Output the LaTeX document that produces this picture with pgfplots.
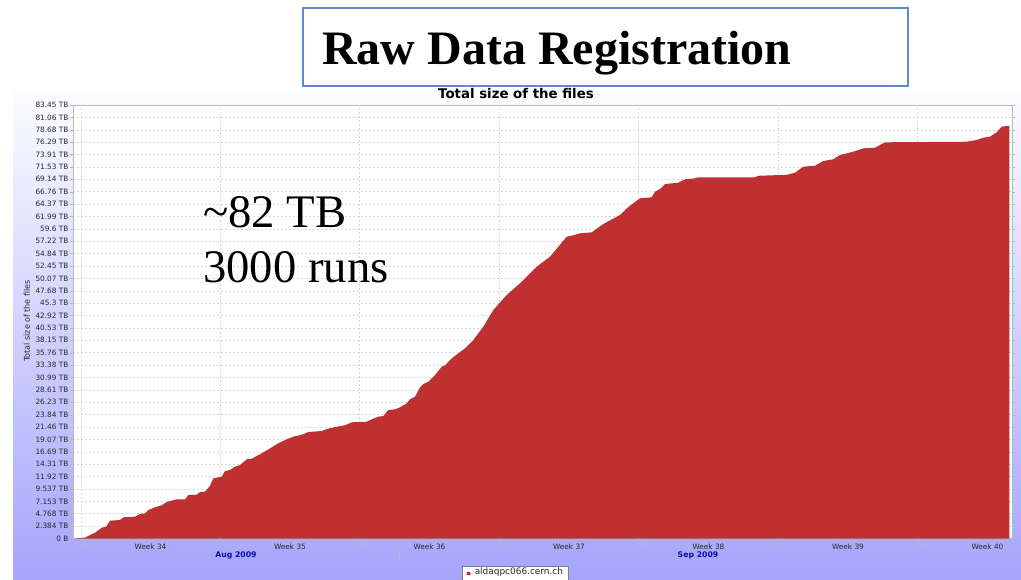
\documentclass[border=0pt]{standalone}
\usepackage{pgfplots}
\pgfplotsset{compat=1.18}
\usepackage{fontspec}
\setmainfont{DejaVu Sans}
\newfontfamily\serifbig{Liberation Serif}
\definecolor{chartred}{RGB}{191,48,48}
\definecolor{boxblue}{RGB}{91,139,205}
\definecolor{panelbot}{RGB}{165,165,252}
\definecolor{paneltop}{RGB}{252,252,255}
\definecolor{tickgray}{RGB}{185,185,185}
\definecolor{gridgray}{RGB}{215,215,215}
\definecolor{labgray}{RGB}{40,40,40}
\definecolor{monthblue}{RGB}{10,10,170}
\pgfplotstableread{
d T
-0.30 0
0.216 0.19
0.467 0.67
0.717 1.12
1.054 2.08
1.269 2.27
1.470 3.43
1.972 3.56
2.137 4.08
2.724 4.20
2.974 4.72
3.226 4.85
3.392 5.49
3.813 6.12
4.064 6.39
4.315 7.03
4.817 7.55
5.233 7.55
5.399 8.37
5.820 8.43
5.986 8.95
6.237 9.01
6.488 10.16
6.653 11.59
7.075 11.90
7.240 12.99
7.491 13.19
7.742 13.82
7.993 14.15
8.329 15.25
8.580 15.36
8.831 15.88
9.082 16.40
9.498 17.36
9.915 18.33
10.336 19.10
10.667 19.60
11.169 20.06
11.420 20.50
12.092 20.69
12.343 21.08
12.845 21.52
13.261 21.79
13.597 22.37
14.350 22.48
14.601 22.95
14.932 23.45
15.183 23.58
15.434 24.74
15.770 24.87
16.021 25.26
16.357 26.03
16.523 26.80
16.774 27.30
17.025 29.11
17.190 29.74
17.441 30.18
17.777 31.47
18.113 33.07
18.279 33.34
18.615 34.69
18.946 35.65
19.283 36.61
19.699 38.21
20.201 40.77
20.702 43.99
21.375 46.87
22.042 49.13
22.880 52.32
23.547 54.25
24.385 58.10
24.716 58.37
25.053 58.75
25.640 58.94
26.222 60.54
27.060 62.28
27.396 63.56
27.727 64.53
28.063 65.49
28.650 65.68
28.816 66.76
29.066 67.28
29.317 68.24
29.985 68.49
30.321 69.15
30.823 69.34
30.988 69.53
33.833 69.53
33.999 69.82
35.424 70.01
35.841 70.42
36.257 71.57
36.844 71.76
37.261 72.67
37.762 73.00
38.098 73.82
38.766 74.46
39.268 75.11
39.855 75.23
40.356 76.27
44.456 76.38
44.957 76.71
45.289 77.15
45.625 77.35
45.961 78.20
46.212 79.27
46.593 79.46
}\datatable
\begin{document}
\begin{tikzpicture}[x=0.75pt,y=0.75pt]
\useasboundingbox (0,0) rectangle (1021,579);
\fill[white] (0,0) rectangle (1021,579);
\shade[top color=paneltop, bottom color=panelbot] (13,0) rectangle (1021,488);
\begin{axis}[
  at={(54.75pt,30.375pt)}, anchor=south west,
  width=704.25pt, height=325.125pt, scale only axis,
  xmin=-0.39, xmax=46.73, ymin=0, ymax=83.45,
  clip=false,
  axis background/.style={fill=white},
  axis line style={draw=tickgray},
  tick align=outside,
  major tick length=2.25pt,
  ytick={0,2.384,4.769,7.153,9.537,11.921,14.306,16.690,19.074,21.459,23.843,26.227,28.611,30.996,33.380,35.764,38.149,40.533,42.917,45.301,47.686,50.070,52.454,54.839,57.223,59.607,61.991,64.376,66.760,69.144,71.529,73.913,76.297,78.681,81.066,83.45},
  yticklabels={0 B,2.384 TB,4.768 TB,7.153 TB,9.537 TB,11.92 TB,14.31 TB,16.69 TB,19.07 TB,21.46 TB,23.84 TB,26.23 TB,28.61 TB,30.99 TB,33.38 TB,35.76 TB,38.15 TB,40.53 TB,42.92 TB,45.3 TB,47.68 TB,50.07 TB,52.45 TB,54.84 TB,57.22 TB,59.6 TB,61.99 TB,64.37 TB,66.76 TB,69.14 TB,71.53 TB,73.91 TB,76.29 TB,78.68 TB,81.06 TB,83.45 TB},
  xtick={3.5,10.5,17.5,24.5,31.5,38.5,45.5},
  xticklabels={Week 34,Week 35,Week 36,Week 37,Week 38,Week 39,Week 40},
  x tick style={draw=none},
  y tick style={draw=tickgray},
  extra x ticks={0,7,14,21,28,35,42},
  extra x tick labels={},
  extra x tick style={grid=major},
  ymajorgrids,
  major grid style={draw=gridgray, dash pattern=on 1.5pt off 1.5pt},
  /pgf/number format/assume math mode=true,
  yticklabel style={font=\fontsize{5.5}{6}\selectfont, text=labgray, anchor=east, inner sep=0pt, xshift=-1pt},
  xticklabel style={font=\fontsize{5.5}{6}\selectfont, text=labgray, anchor=north, inner sep=0pt, yshift=-1.8pt},
]
\addplot[fill=chartred, draw=none] table[x=d, y=T] {\datatable} \closedcycle;
\pgfplotsinvokeforeach{0,7,14,21,28,35,42}{\draw[tickgray] (axis cs:#1,0) -- ++(0,-7.9pt);}
\end{axis}
% month labels
\node[font=\bfseries\fontsize{5.8}{6}\selectfont, text=monthblue] at (236,24) {Aug 2009};
\node[font=\bfseries\fontsize{5.8}{6}\selectfont, text=monthblue] at (698,24) {Sep 2009};
\draw[tickgray] (399,29) -- (399,19);
% titles
\node[font=\bfseries\fontsize{10}{12}\selectfont] at (516,485) {Total size of the files};
\node[rotate=90, font=\fontsize{6}{7}\selectfont, text=labgray] at (27,258) {Total size of the files};
% big annotations
\node[anchor=base west, inner sep=0pt, font=\serifbig\fontsize{35}{40}\selectfont] at (203,351) {\textasciitilde82 TB};
\node[anchor=base west, inner sep=0pt, font=\serifbig\fontsize{35}{40}\selectfont] at (203,296) {3000 runs};
% title box
\draw[boxblue, line width=1.2pt] (303,571) rectangle (908,493);
\node[anchor=base west, inner sep=0pt, font=\serifbig\bfseries\fontsize{36}{40}\selectfont] at (322,514) {Raw Data Registration};
% legend
\draw[fill=white, draw=gray] (462,13) rectangle (568,-6);
\fill[chartred] (466.5,4) -- (470.5,4) -- (470.5,5.5) arc (0:180:2) -- cycle;
\node[anchor=west, inner sep=0pt, font=\fontsize{6.7}{7}\selectfont, text=labgray] at (474.5,6.5) {aldaqpc066.cern.ch};
\end{tikzpicture}
\end{document}
